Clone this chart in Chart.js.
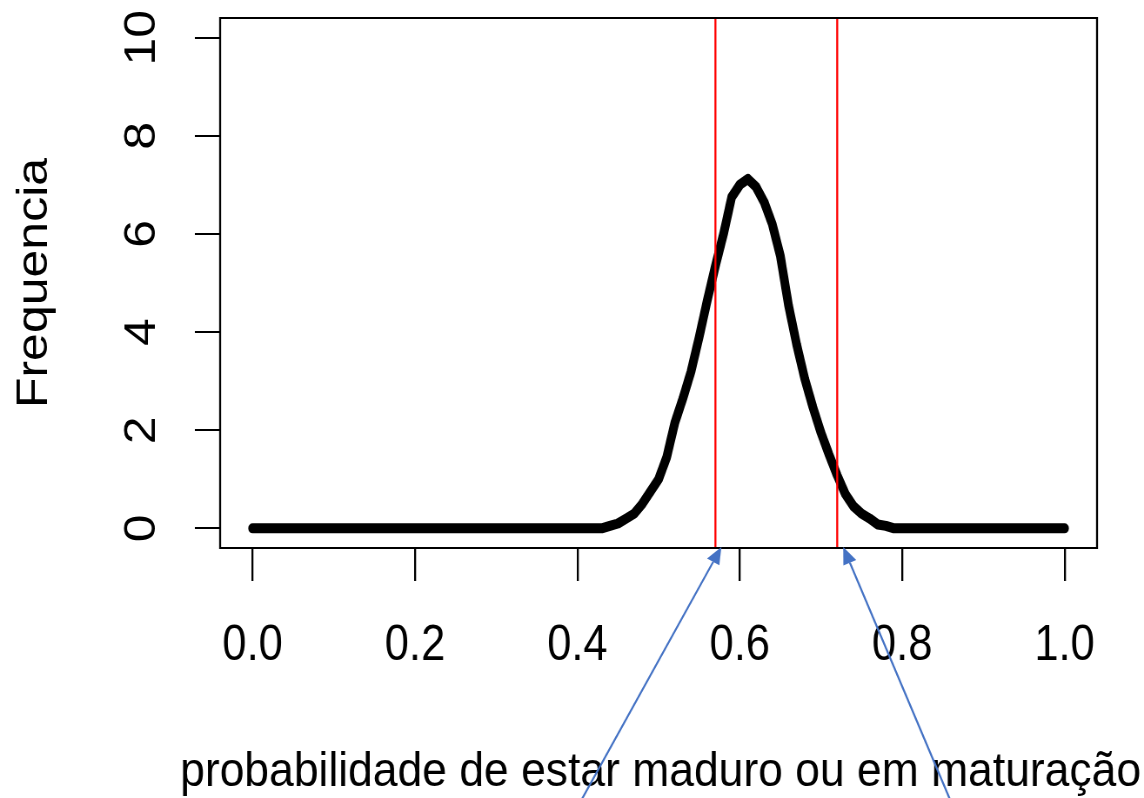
<!DOCTYPE html>
<html>
<head>
<meta charset="utf-8">
<script src="https://cdn.jsdelivr.net/npm/chart.js@4"></script>
<style>
  html, body { margin: 0; padding: 0; background: #fff; overflow: hidden; }
  #chart { display: block; }
</style>
</head>
<body>
<canvas id="chart"></canvas>
<script>
// ===== Data =====
const probValues = [
  0.00, 0.01, 0.02, 0.03, 0.04, 0.05, 0.06, 0.07, 0.08, 0.09,
  0.10, 0.11, 0.12, 0.13, 0.14, 0.15, 0.16, 0.17, 0.18, 0.19,
  0.20, 0.21, 0.22, 0.23, 0.24, 0.25, 0.26, 0.27, 0.28, 0.29,
  0.30, 0.31, 0.32, 0.33, 0.34, 0.35, 0.36, 0.37, 0.38, 0.39,
  0.40, 0.41, 0.42, 0.43, 0.44, 0.45, 0.46, 0.47, 0.48, 0.49,
  0.50, 0.51, 0.52, 0.53, 0.54, 0.55, 0.56, 0.57, 0.58, 0.59,
  0.60, 0.61, 0.62, 0.63, 0.64, 0.65, 0.66, 0.67, 0.68, 0.69,
  0.70, 0.71, 0.72, 0.73, 0.74, 0.75, 0.76, 0.77, 0.78, 0.79,
  0.80, 0.81, 0.82, 0.83, 0.84, 0.85, 0.86, 0.87, 0.88, 0.89,
  0.90, 0.91, 0.92, 0.93, 0.94, 0.95, 0.96, 0.97, 0.98, 0.99,
  1.00
];
const frequencia = [
  0, 0, 0, 0, 0, 0, 0, 0, 0, 0,
  0, 0, 0, 0, 0, 0, 0, 0, 0, 0,
  0, 0, 0, 0, 0, 0, 0, 0, 0, 0,
  0, 0, 0, 0, 0, 0, 0, 0, 0, 0,
  0, 0, 0, 0, 0.05, 0.1, 0.2, 0.3, 0.5, 0.75,
  1.0, 1.45, 2.15, 2.65, 3.2, 3.9, 4.65, 5.35, 6.0, 6.75,
  7.0, 7.12, 6.96, 6.65, 6.2, 5.55, 4.55, 3.75, 3.05, 2.47,
  1.95, 1.5, 1.08, 0.7, 0.45, 0.3, 0.2, 0.08, 0.05, 0,
  0, 0, 0, 0, 0, 0, 0, 0, 0, 0,
  0, 0, 0, 0, 0, 0, 0, 0, 0, 0,
  0
];
const cutoffs = [0.57, 0.72];
const xTicks = [0, 0.2, 0.4, 0.6, 0.8, 1.0];
const yTicks = [0, 2, 4, 6, 8, 10];
const xLimits = [-0.04, 1.04];
const yLimits = [-0.4, 10.4];
const xTitle = 'probabilidade de estar maduro ou em maturação';
const yTitle = 'Frequencia';

// ===== Layout =====
// the reference is squeezed horizontally, so draw wider and shrink with css
const SQUEEZE = 0.87;
const CSS_W = 1144, CSS_H = 798;
const W = Math.round(CSS_W / SQUEEZE), H = CSS_H;
const FONT = 'Liberation Sans, Arial, sans-serif';

const canvas = document.getElementById('chart');
canvas.width = W;
canvas.height = H;
canvas.style.width = CSS_W + 'px';
canvas.style.height = CSS_H + 'px';

const curve = probValues.map((x, i) => ({ x: x, y: frequencia[i] }));

const cutoffSets = cutoffs.map(c => ({
  data: [{ x: c, y: yLimits[0] }, { x: c, y: yLimits[1] }],
  borderColor: '#ff0000', borderWidth: 2.3, pointRadius: 0, order: 0
}));

// box, rotated y labels, x title and blue arrows
const extras = {
  id: 'extras',
  afterDraw(chart) {
    const ctx = chart.ctx;
    const a = chart.chartArea;
    const xs = chart.scales.x, ys = chart.scales.y;

    // rotated y tick labels (R style)
    ctx.save();
    ctx.fillStyle = '#000';
    ctx.font = '50px ' + FONT;
    ctx.textAlign = 'center';
    ctx.textBaseline = 'middle';
    yTicks.forEach(v => {
      ctx.save();
      ctx.translate(164, ys.getPixelForValue(v));
      ctx.rotate(-Math.PI / 2);
      ctx.fillText(String(v), 0, 0);
      ctx.restore();
    });
    ctx.restore();

    // draw in css units from here
    ctx.save();
    ctx.scale(1 / SQUEEZE, 1);
    const cx = px => px * SQUEEZE;

    ctx.strokeStyle = '#000';
    ctx.lineWidth = 2;
    ctx.strokeRect(cx(a.left), a.top, cx(a.right) - cx(a.left), a.bottom - a.top);

    // x title
    ctx.save();
    ctx.translate(cx((a.left + a.right) / 2) + 2, 786);
    ctx.scale(0.907, 1);
    ctx.fillStyle = '#000';
    ctx.font = '49px ' + FONT;
    ctx.textAlign = 'center';
    ctx.textBaseline = 'alphabetic';
    ctx.fillText(xTitle, 0, 0);
    ctx.restore();

    const arrow = (x0, y0, x1, y1) => {
      const ang = Math.atan2(y1 - y0, x1 - x0);
      const len = 17, half = 7;
      const bx = x1 - len * Math.cos(ang), by = y1 - len * Math.sin(ang);
      ctx.strokeStyle = '#4472C4';
      ctx.fillStyle = '#4472C4';
      ctx.lineWidth = 2;
      ctx.beginPath();
      ctx.moveTo(x0, y0);
      ctx.lineTo(bx, by);
      ctx.stroke();
      ctx.beginPath();
      ctx.moveTo(x1, y1);
      ctx.lineTo(bx + half * Math.sin(ang), by - half * Math.cos(ang));
      ctx.lineTo(bx - half * Math.sin(ang), by + half * Math.cos(ang));
      ctx.closePath();
      ctx.fill();
    };
    const l = cx(xs.getPixelForValue(cutoffs[0]));
    const r = cx(xs.getPixelForValue(cutoffs[1]));
    arrow(l - 134, H + 2, l + 6, a.bottom - 1);
    arrow(r + 113, H + 2, r + 6, a.bottom - 1);
    ctx.restore();
  }
};

new Chart(canvas, {
  type: 'line',
  data: {
    datasets: [
      ...cutoffSets,
      {
        data: curve,
        borderColor: '#000',
        borderWidth: 10,
        borderCapStyle: 'round',
        borderJoinStyle: 'round',
        pointRadius: 0,
        tension: 0,
        order: 1
      }
    ]
  },
  options: {
    responsive: false,
    animation: false,
    layout: { padding: { top: 18, right: W - 1261, left: 0, bottom: 0 } },
    plugins: { legend: { display: false }, tooltip: { enabled: false } },
    scales: {
      x: {
        type: 'linear',
        min: xLimits[0], max: xLimits[1],
        afterBuildTicks: axis => { axis.ticks = xTicks.map(v => ({ value: v })); },
        afterFit: axis => { axis.height = H - 548; },
        border: { display: false },
        grid: { drawOnChartArea: false, drawTicks: true, tickLength: 33, color: '#000', lineWidth: 2.3 },
        ticks: {
          autoSkip: false, maxRotation: 0, padding: 35, color: '#000',
          font: { family: FONT, size: 50 },
          callback: v => v.toFixed(1)
        },
        title: { display: false, text: xTitle }
      },
      y: {
        type: 'linear',
        min: yLimits[0], max: yLimits[1],
        afterBuildTicks: axis => { axis.ticks = yTicks.map(v => ({ value: v })); },
        afterFit: axis => { axis.width = 253; },
        border: { display: false },
        grid: { drawOnChartArea: false, drawTicks: true, tickLength: 29, color: '#000', lineWidth: 2 },
        ticks: { display: false },
        title: {
          display: true, text: yTitle, color: '#000',
          font: { family: FONT, size: 50, lineHeight: 1.2 },
          padding: { top: 10, bottom: 0 }
        }
      }
    }
  },
  plugins: [extras]
});
</script>
</body>
</html>
